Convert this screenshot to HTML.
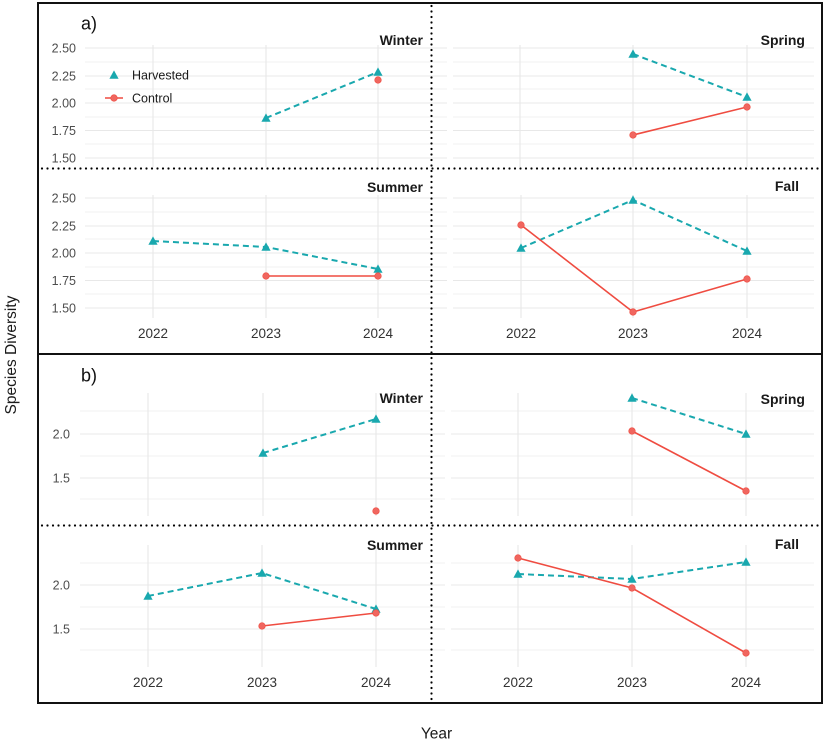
<!DOCTYPE html>
<html>
<head>
<meta charset="utf-8">
<style>
  html,body{margin:0;padding:0;background:#fff;}
  svg{display:block;}
  text{font-family:"Liberation Sans",Arial,sans-serif;}
  .tk{font-size:12.5px;fill:#4d4d4d;}
  .xt{font-size:13.5px;fill:#333;text-anchor:middle;}
  .ss{font-size:14px;font-weight:bold;fill:#1a1a1a;text-anchor:end;}
  .g1{stroke:#e8e8e8;stroke-width:1.1;}
  .g2{stroke:#f0f0f0;stroke-width:0.9;}
  .h{stroke:#19a8ae;stroke-width:2;fill:none;stroke-dasharray:6 4;}
  .c{stroke:#ef4c41;stroke-width:1.6;fill:none;}
  .tri{fill:#19a8ae;}
  .cir{fill:#f0665f;stroke:#ef4c41;stroke-width:0.6;}
  .dot{stroke:#000;stroke-width:2.2;stroke-linecap:round;stroke-dasharray:0 5.5;fill:none;}
</style>
</head>
<body>
<svg width="827" height="744" viewBox="0 0 827 744" xmlns="http://www.w3.org/2000/svg">
<defs>
  <path id="T" d="M-4.6,3.8 L4.6,3.8 L0,-4.6 Z"/>
</defs>

<!-- ===== Panel a: gridlines ===== -->
<g>
  <!-- a top-left horizontal -->
  <g>
    <line class="g1" x1="85" x2="447" y1="48" y2="48"/>
    <line class="g2" x1="85" x2="447" y1="62" y2="62"/>
    <line class="g1" x1="85" x2="447" y1="76" y2="76"/>
    <line class="g2" x1="85" x2="447" y1="89" y2="89"/>
    <line class="g1" x1="85" x2="447" y1="103" y2="103"/>
    <line class="g2" x1="85" x2="447" y1="117" y2="117"/>
    <line class="g1" x1="85" x2="447" y1="130.5" y2="130.5"/>
    <line class="g2" x1="85" x2="447" y1="144" y2="144"/>
    <line class="g1" x1="85" x2="447" y1="158" y2="158"/>
  </g>
  <g>
    <line class="g1" x1="153" x2="153" y1="45" y2="167"/>
    <line class="g1" x1="266" x2="266" y1="45" y2="167"/>
    <line class="g1" x1="378" x2="378" y1="45" y2="167"/>
  </g>
  <!-- a top-right -->
  <g>
    <line class="g1" x1="453" x2="814" y1="48" y2="48"/>
    <line class="g2" x1="453" x2="814" y1="62" y2="62"/>
    <line class="g1" x1="453" x2="814" y1="76" y2="76"/>
    <line class="g2" x1="453" x2="814" y1="89" y2="89"/>
    <line class="g1" x1="453" x2="814" y1="103" y2="103"/>
    <line class="g2" x1="453" x2="814" y1="117" y2="117"/>
    <line class="g1" x1="453" x2="814" y1="130.5" y2="130.5"/>
    <line class="g2" x1="453" x2="814" y1="144" y2="144"/>
    <line class="g1" x1="453" x2="814" y1="158" y2="158"/>
    <line class="g1" x1="520" x2="520" y1="45" y2="167"/>
    <line class="g1" x1="633" x2="633" y1="45" y2="167"/>
    <line class="g1" x1="747" x2="747" y1="45" y2="167"/>
  </g>
  <!-- a bottom-left -->
  <g>
    <line class="g1" x1="85" x2="447" y1="198" y2="198"/>
    <line class="g2" x1="85" x2="447" y1="212" y2="212"/>
    <line class="g1" x1="85" x2="447" y1="226" y2="226"/>
    <line class="g2" x1="85" x2="447" y1="239" y2="239"/>
    <line class="g1" x1="85" x2="447" y1="253" y2="253"/>
    <line class="g2" x1="85" x2="447" y1="267" y2="267"/>
    <line class="g1" x1="85" x2="447" y1="280.5" y2="280.5"/>
    <line class="g2" x1="85" x2="447" y1="294" y2="294"/>
    <line class="g1" x1="85" x2="447" y1="308" y2="308"/>
    <line class="g1" x1="153" x2="153" y1="195" y2="318"/>
    <line class="g1" x1="266" x2="266" y1="195" y2="318"/>
    <line class="g1" x1="378" x2="378" y1="195" y2="318"/>
  </g>
  <!-- a bottom-right -->
  <g>
    <line class="g1" x1="453" x2="814" y1="198" y2="198"/>
    <line class="g2" x1="453" x2="814" y1="212" y2="212"/>
    <line class="g1" x1="453" x2="814" y1="226" y2="226"/>
    <line class="g2" x1="453" x2="814" y1="239" y2="239"/>
    <line class="g1" x1="453" x2="814" y1="253" y2="253"/>
    <line class="g2" x1="453" x2="814" y1="267" y2="267"/>
    <line class="g1" x1="453" x2="814" y1="280.5" y2="280.5"/>
    <line class="g2" x1="453" x2="814" y1="294" y2="294"/>
    <line class="g1" x1="453" x2="814" y1="308" y2="308"/>
    <line class="g1" x1="521" x2="521" y1="195" y2="318"/>
    <line class="g1" x1="633" x2="633" y1="195" y2="318"/>
    <line class="g1" x1="747" x2="747" y1="195" y2="318"/>
  </g>
</g>

<!-- ===== Panel b: gridlines ===== -->
<g>
  <g>
    <line class="g2" x1="80" x2="445" y1="411" y2="411"/>
    <line class="g1" x1="80" x2="445" y1="434" y2="434"/>
    <line class="g2" x1="80" x2="445" y1="456" y2="456"/>
    <line class="g1" x1="80" x2="445" y1="478" y2="478"/>
    <line class="g2" x1="80" x2="445" y1="499" y2="499"/>
    <line class="g1" x1="148" x2="148" y1="393" y2="516"/>
    <line class="g1" x1="263" x2="263" y1="393" y2="516"/>
    <line class="g1" x1="376" x2="376" y1="393" y2="516"/>
  </g>
  <g>
    <line class="g2" x1="451" x2="814" y1="411" y2="411"/>
    <line class="g1" x1="451" x2="814" y1="434" y2="434"/>
    <line class="g2" x1="451" x2="814" y1="456" y2="456"/>
    <line class="g1" x1="451" x2="814" y1="478" y2="478"/>
    <line class="g2" x1="451" x2="814" y1="499" y2="499"/>
    <line class="g1" x1="518" x2="518" y1="393" y2="516"/>
    <line class="g1" x1="632" x2="632" y1="393" y2="516"/>
    <line class="g1" x1="746" x2="746" y1="393" y2="516"/>
  </g>
  <g>
    <line class="g2" x1="80" x2="445" y1="563" y2="563"/>
    <line class="g1" x1="80" x2="445" y1="585" y2="585"/>
    <line class="g2" x1="80" x2="445" y1="607" y2="607"/>
    <line class="g1" x1="80" x2="445" y1="629" y2="629"/>
    <line class="g2" x1="80" x2="445" y1="650" y2="650"/>
    <line class="g1" x1="148" x2="148" y1="545" y2="667"/>
    <line class="g1" x1="262" x2="262" y1="545" y2="667"/>
    <line class="g1" x1="376" x2="376" y1="545" y2="667"/>
  </g>
  <g>
    <line class="g2" x1="451" x2="814" y1="563" y2="563"/>
    <line class="g1" x1="451" x2="814" y1="585" y2="585"/>
    <line class="g2" x1="451" x2="814" y1="607" y2="607"/>
    <line class="g1" x1="451" x2="814" y1="629" y2="629"/>
    <line class="g2" x1="451" x2="814" y1="650" y2="650"/>
    <line class="g1" x1="518" x2="518" y1="545" y2="667"/>
    <line class="g1" x1="632" x2="632" y1="545" y2="667"/>
    <line class="g1" x1="746" x2="746" y1="545" y2="667"/>
  </g>
</g>

<!-- ===== Tick labels ===== -->
<g class="tk" text-anchor="end">
  <text x="76" y="52.5">2.50</text>
  <text x="76" y="80.5">2.25</text>
  <text x="76" y="107.5">2.00</text>
  <text x="76" y="135">1.75</text>
  <text x="76" y="162.5">1.50</text>
  <text x="76" y="202.5">2.50</text>
  <text x="76" y="230.5">2.25</text>
  <text x="76" y="257.5">2.00</text>
  <text x="76" y="285">1.75</text>
  <text x="76" y="312.5">1.50</text>
  <text x="70" y="438.5">2.0</text>
  <text x="70" y="482.5">1.5</text>
  <text x="70" y="589.5">2.0</text>
  <text x="70" y="633.5">1.5</text>
</g>
<g class="xt">
  <text x="153" y="338">2022</text>
  <text x="266" y="338">2023</text>
  <text x="378" y="338">2024</text>
  <text x="521" y="338">2022</text>
  <text x="633" y="338">2023</text>
  <text x="747" y="338">2024</text>
  <text x="148" y="687">2022</text>
  <text x="262" y="687">2023</text>
  <text x="376" y="687">2024</text>
  <text x="518" y="687">2022</text>
  <text x="632" y="687">2023</text>
  <text x="746" y="687">2024</text>
</g>

<!-- ===== Season labels ===== -->
<g class="ss">
  <text x="423" y="45">Winter</text>
  <text x="805" y="45">Spring</text>
  <text x="423" y="192">Summer</text>
  <text x="799" y="191">Fall</text>
  <text x="423" y="403">Winter</text>
  <text x="805" y="404">Spring</text>
  <text x="423" y="550">Summer</text>
  <text x="799" y="549">Fall</text>
</g>

<!-- panel letters -->
<text x="81" y="29.5" font-size="18" fill="#111">a)</text>
<text x="81" y="381.5" font-size="18" fill="#111">b)</text>

<!-- legend -->
<use href="#T" class="tri" x="114" y="75"/>
<text x="132" y="79.5" font-size="12.5" fill="#1a1a1a">Harvested</text>
<line x1="105" x2="123" y1="98" y2="98" class="c"/>
<circle cx="114" cy="98" r="3.3" class="cir"/>
<text x="132" y="102.5" font-size="12.5" fill="#1a1a1a">Control</text>

<!-- ===== Data ===== -->
<!-- a Winter -->
<polyline class="h" points="266,118 378,72"/>
<use href="#T" class="tri" x="266" y="118"/>
<use href="#T" class="tri" x="378" y="72"/>
<circle cx="378" cy="80" r="3.3" class="cir"/>
<!-- a Spring -->
<polyline class="h" points="633,54 747,97"/>
<polyline class="c" points="633,135 747,107"/>
<use href="#T" class="tri" x="633" y="54"/>
<use href="#T" class="tri" x="747" y="97"/>
<circle cx="633" cy="135" r="3.3" class="cir"/>
<circle cx="747" cy="107" r="3.3" class="cir"/>
<!-- a Summer -->
<polyline class="h" points="153,241 266,247 378,269"/>
<polyline class="c" points="266,276 378,276"/>
<use href="#T" class="tri" x="153" y="241"/>
<use href="#T" class="tri" x="266" y="247"/>
<use href="#T" class="tri" x="378" y="269"/>
<circle cx="266" cy="276" r="3.3" class="cir"/>
<circle cx="378" cy="276" r="3.3" class="cir"/>
<!-- a Fall -->
<polyline class="h" points="521,248 633,200 747,251"/>
<polyline class="c" points="521,225 633,312 747,279"/>
<use href="#T" class="tri" x="521" y="248"/>
<use href="#T" class="tri" x="633" y="200"/>
<use href="#T" class="tri" x="747" y="251"/>
<circle cx="521" cy="225" r="3.3" class="cir"/>
<circle cx="633" cy="312" r="3.3" class="cir"/>
<circle cx="747" cy="279" r="3.3" class="cir"/>

<!-- b Winter -->
<polyline class="h" points="263,453 376,419"/>
<use href="#T" class="tri" x="263" y="453"/>
<use href="#T" class="tri" x="376" y="419"/>
<circle cx="376" cy="511" r="3.3" class="cir"/>
<!-- b Spring -->
<polyline class="h" points="632,398 746,434"/>
<polyline class="c" points="632,431 746,491"/>
<use href="#T" class="tri" x="632" y="398"/>
<use href="#T" class="tri" x="746" y="434"/>
<circle cx="632" cy="431" r="3.3" class="cir"/>
<circle cx="746" cy="491" r="3.3" class="cir"/>
<!-- b Summer -->
<polyline class="h" points="148,596 262,573 376,609"/>
<polyline class="c" points="262,626 376,613"/>
<use href="#T" class="tri" x="148" y="596"/>
<use href="#T" class="tri" x="262" y="573"/>
<use href="#T" class="tri" x="376" y="609"/>
<circle cx="262" cy="626" r="3.3" class="cir"/>
<circle cx="376" cy="613" r="3.3" class="cir"/>
<!-- b Fall -->
<polyline class="h" points="518,574 632,579 746,562"/>
<polyline class="c" points="518,558 632,588 746,653"/>
<use href="#T" class="tri" x="518" y="574"/>
<use href="#T" class="tri" x="632" y="579"/>
<use href="#T" class="tri" x="746" y="562"/>
<circle cx="518" cy="558" r="3.3" class="cir"/>
<circle cx="632" cy="588" r="3.3" class="cir"/>
<circle cx="746" cy="653" r="3.3" class="cir"/>

<!-- ===== Dotted dividers ===== -->
<line class="dot" x1="431.5" x2="431.5" y1="6" y2="700"/>
<line class="dot" x1="42" x2="820" y1="168.5" y2="168.5"/>
<line class="dot" x1="42" x2="820" y1="525.5" y2="525.5"/>

<!-- ===== Frame ===== -->
<rect x="38" y="3" width="784" height="700" fill="none" stroke="#111" stroke-width="2"/>
<line x1="38" x2="822" y1="354" y2="354" stroke="#111" stroke-width="2"/>

<!-- axis titles -->
<text x="0" y="0" font-size="15.5" fill="#1a1a1a" text-anchor="middle" transform="translate(16,355) rotate(-90)">Species Diversity</text>
<text x="436.5" y="738.5" font-size="15.5" fill="#1a1a1a" text-anchor="middle">Year</text>
</svg>
</body>
</html>
